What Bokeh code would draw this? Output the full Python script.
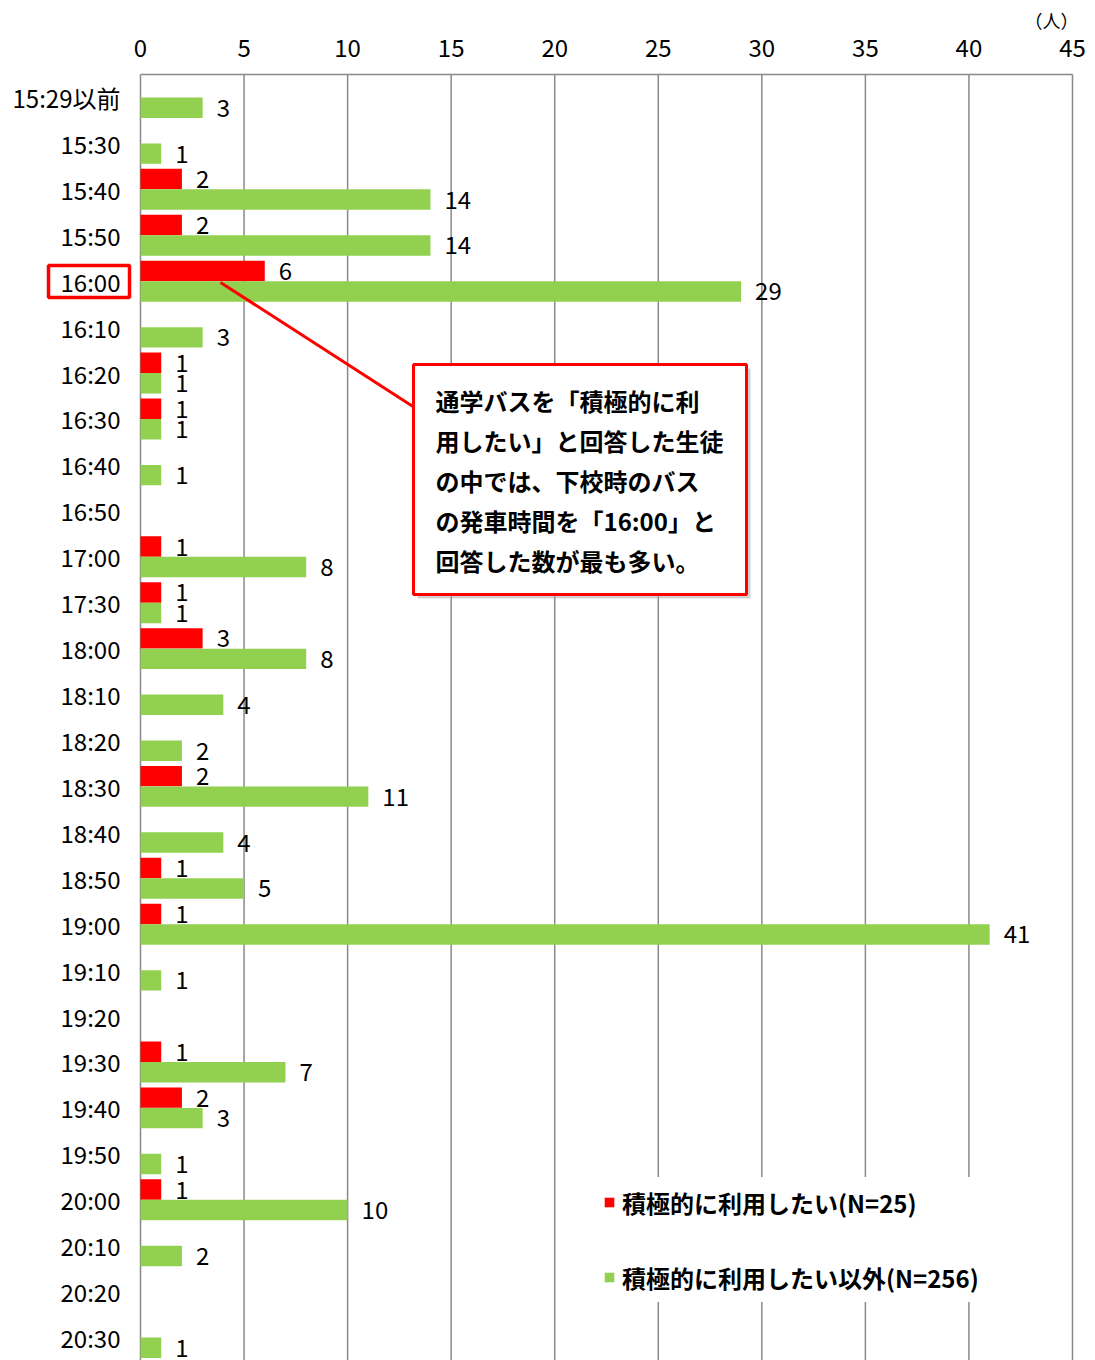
import pandas as pd
from bokeh.plotting import figure
from bokeh.models import (ColumnDataSource, Range1d, Legend, LegendItem, Label,
                          BoxAnnotation, Arrow)
from bokeh.core.properties import value
from bokeh.embed import file_html
from bokeh.resources import INLINE

# ---------------- data ----------------
times = ["15:29以前", "15:30", "15:40", "15:50", "16:00", "16:10", "16:20", "16:30",
         "16:40", "16:50", "17:00", "17:30", "18:00", "18:10", "18:20", "18:30",
         "18:40", "18:50", "19:00", "19:10", "19:20", "19:30", "19:40", "19:50",
         "20:00", "20:10", "20:20", "20:30"]
want_active = [0, 0, 2, 2, 6, 0, 1, 1, 0, 0, 1, 1, 3, 0, 0, 2, 0, 1, 1, 0, 0, 1, 2, 0, 1, 0, 0, 0]
others = [3, 1, 14, 14, 29, 3, 1, 1, 1, 0, 8, 1, 8, 4, 2, 11, 4, 5, 41, 1, 0, 7, 3, 1, 10, 2, 0, 1]
x_ticks = [0, 5, 10, 15, 20, 25, 30, 35, 40, 45]
series_names = ["積極的に利用したい(N=25)", "積極的に利用したい以外(N=256)"]
unit_label = "（人）"
highlight_time = "16:00"
callout_lines = ["通学バスを「積極的に利",
                 "用したい」と回答した生徒",
                 "の中では、下校時のバス",
                 "の発車時間を「16:00」と",
                 "回答した数が最も多い。"]

RED = "#FF0000"
GREEN = "#92D050"
GRID = "#898989"
FONT = "Noto Sans CJK JP"

W, HGT = 1095, 1360
# ---------------- layout helpers (annotation placement only) ----------------
PLOT_L, PLOT_R, PLOT_T, PLOT_B = 140, 1072, 74, 1360   # page pixels of value area
NCAT = len(times)
XMAX = x_ticks[-1]


def px_x(px):
    return (px - PLOT_L) / ((PLOT_R - PLOT_L) / XMAX)


def px_y(py):
    return NCAT - (py - PLOT_T) / ((PLOT_B - PLOT_T) / NCAT)


df = pd.DataFrame({"time": times, "red": want_active, "green": others})
df["pos"] = [NCAT - i - 0.5 for i in range(NCAT)]   # category slot (top = first)
OFF = 0.223
BAR_H = 0.445
df["red_y"] = df["pos"] + OFF
df["green_y"] = df["pos"] - OFF
df["red_lbl"] = df["red"].astype(str)
df["green_lbl"] = df["green"].astype(str)
red_src = ColumnDataSource(df[df["red"] > 0].reset_index(drop=True))
green_src = ColumnDataSource(df[df["green"] > 0].reset_index(drop=True))
cat_src = ColumnDataSource(df)
tick_src = ColumnDataSource(dict(x=x_ticks, lbl=[str(t) for t in x_ticks],
                                 y0=[0] * len(x_ticks), y1=[NCAT] * len(x_ticks)))

p = figure(width=W, height=HGT,
           x_range=Range1d(px_x(0), px_x(W)),
           y_range=Range1d(px_y(HGT), px_y(0)),
           output_backend="svg", toolbar_location=None,
           min_border=0, min_border_left=0, min_border_right=0,
           min_border_top=0, min_border_bottom=0)
p.xaxis.visible = False
p.yaxis.visible = False
p.xgrid.grid_line_color = None
p.ygrid.grid_line_color = None
p.outline_line_color = None
p.background_fill_color = "white"
p.border_fill_color = "white"

# grid lines (value ticks) and top border
p.segment(x0="x", x1="x", y0="y0", y1="y1", source=tick_src, line_color=GRID, line_width=1.5)
p.segment(x0=[x_ticks[0]], x1=[x_ticks[-1]], y0=[NCAT], y1=[NCAT], line_color=GRID, line_width=1.5)

# bars
r_red = p.hbar(y="red_y", left=0, right="red", height=BAR_H,
               source=red_src, fill_color=RED, line_color=None)
r_green = p.hbar(y="green_y", left=0, right="green", height=BAR_H,
                 source=green_src, fill_color=GREEN, line_color=None)

lbl_kw = dict(text_font=value(FONT), text_font_size="24px", text_color="black",
              text_align="left", text_baseline="middle", x_offset=14)
p.text(x="red", y="red_y", text="red_lbl", source=red_src, **lbl_kw)
p.text(x="green", y="green_y", text="green_lbl", source=green_src, **lbl_kw)

# value-axis tick labels (top)
p.text(x="x", y="y1", text="lbl", source=tick_src, text_font=value(FONT),
       text_font_size="24px", text_color="black", text_align="center",
       text_baseline="middle", y_offset=-27)
# category labels (left)
p.text(x=0, y="pos", text="time", source=cat_src, text_font=value(FONT),
       text_font_size="24px", text_color="black", text_align="right",
       text_baseline="middle", x_offset=-20)

# unit label
p.add_layout(Label(x=XMAX, y=px_y(19), text=unit_label, text_align="right",
                   text_baseline="middle", x_offset=6, text_font=FONT,
                   text_font_size="18px", text_color="black"))

# highlight box around the 16:00 category label
p.add_layout(BoxAnnotation(left=px_x(48), right=px_x(129), top=px_y(265), bottom=px_y(297),
                           fill_alpha=0, line_color=RED, line_alpha=1.0, line_width=3.5))

# callout pointer
p.add_layout(Arrow(end=None, x_start=px_x(220), y_start=px_y(282),
                   x_end=px_x(414), y_end=px_y(407), line_color=RED, line_width=3))

# callout box with shadow
p.add_layout(BoxAnnotation(left=px_x(417), right=px_x(750), top=px_y(368), bottom=px_y(598),
                           fill_color="#9a9a9a", fill_alpha=0.45, line_color=None))
p.add_layout(BoxAnnotation(left=px_x(413), right=px_x(746), top=px_y(364), bottom=px_y(594),
                           fill_color="white", fill_alpha=1.0, line_color=RED,
                           line_alpha=1.0, line_width=3))
for i, line in enumerate(callout_lines):
    p.add_layout(Label(x=px_x(435), y=px_y(400 + 40 * i), text=line, text_align="left",
                       text_baseline="middle", text_font=FONT, text_font_size="24px",
                       text_font_style="bold", text_color="black"))

legend = Legend(items=[LegendItem(label=series_names[0], renderers=[r_red]),
                       LegendItem(label=series_names[1], renderers=[r_green])],
                location=(603, 58), orientation="vertical",
                glyph_width=12, glyph_height=12, label_height=50, label_width=448,
                label_standoff=7, spacing=25, padding=13, margin=0,
                label_text_font=FONT, label_text_font_size="24px",
                label_text_font_style="bold", label_text_color="black",
                border_line_color=None, background_fill_color="white",
                background_fill_alpha=1.0)
p.add_layout(legend)

open("out.html", "w").write(file_html(p, INLINE))
